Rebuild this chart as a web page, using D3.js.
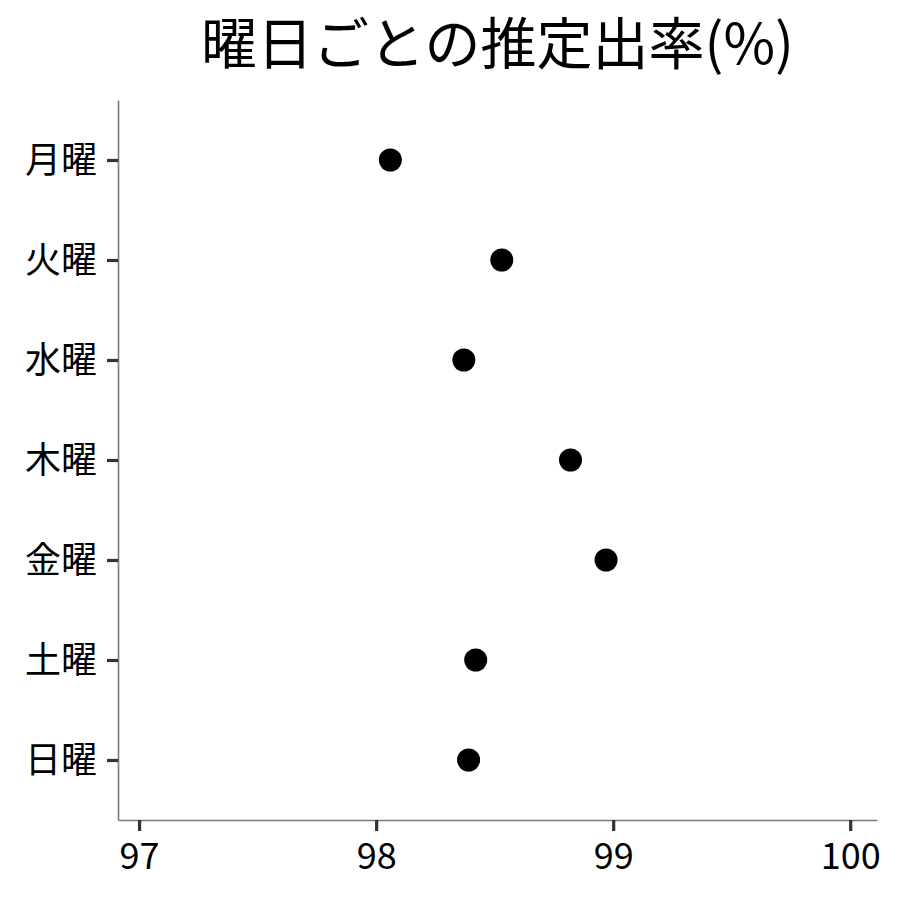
<!DOCTYPE html>
<html>
<head>
<meta charset="utf-8">
<script src="https://cdn.jsdelivr.net/npm/d3@7"></script>
<style>
  body { margin: 0; background: #fff; }
  svg text { font-family: "Noto Sans CJK JP", "Noto Sans", sans-serif; }
</style>
</head>
<body>
<svg id="chart" width="900" height="900"></svg>
<script>
// data
var days = ["月曜", "火曜", "水曜", "木曜", "金曜", "土曜", "日曜"];
var rates = [98.06, 98.53, 98.37, 98.82, 98.97, 98.42, 98.39];
var xTicks = [97, 98, 99, 100];
var titleText = "曜日ごとの推定出率(%)";

var svg = d3.select("#chart");
var plot = { left: 118, right: 877, top: 100, bottom: 820 };

var x = d3.scaleLinear()
          .domain([96.911, 100.113])
          .range([plot.left, plot.right]);

var y = d3.scalePoint()
          .domain(days)
          .range([plot.top, plot.bottom])
          .padding(0.6);

// x axis
var gx = svg.append("g")
            .attr("transform", "translate(0," + plot.bottom + ")")
            .call(d3.axisBottom(x).tickValues(xTicks).tickFormat(d3.format("d"))
                    .tickSize(11).tickSizeOuter(0).tickPadding(12));

// y axis
var gy = svg.append("g")
            .attr("transform", "translate(" + plot.left + ",0)")
            .call(d3.axisLeft(y).tickSize(11).tickSizeOuter(0).tickPadding(10));

[gx, gy].forEach(function(g) {
  g.attr("font-family", null).attr("font-size", null);
  g.select(".domain").attr("stroke", "#7a7a7a").attr("stroke-width", 1.6);
  g.selectAll(".tick line").attr("stroke", "#333").attr("stroke-width", 3.2);
  g.selectAll(".tick text")
   .attr("fill", "#000")
   .style("font-size", "36px");
});
gy.selectAll(".tick text").attr("dy", "0.36em");
gx.selectAll(".tick text").attr("dy", "0.72em");

// points
svg.selectAll(".pt")
   .data(days)
   .enter()
   .append("circle")
   .attr("class", "pt")
   .attr("cx", function(d, i) { return x(rates[i]); })
   .attr("cy", function(d) { return y(d); })
   .attr("r", 11.5)
   .attr("fill", "#000");

// title
svg.append("text")
   .attr("x", (plot.left + plot.right) / 2)
   .attr("y", 64)
   .attr("text-anchor", "middle")
   .style("font-size", "56px")
   .attr("fill", "#000")
   .text(titleText);
</script>
</body>
</html>
